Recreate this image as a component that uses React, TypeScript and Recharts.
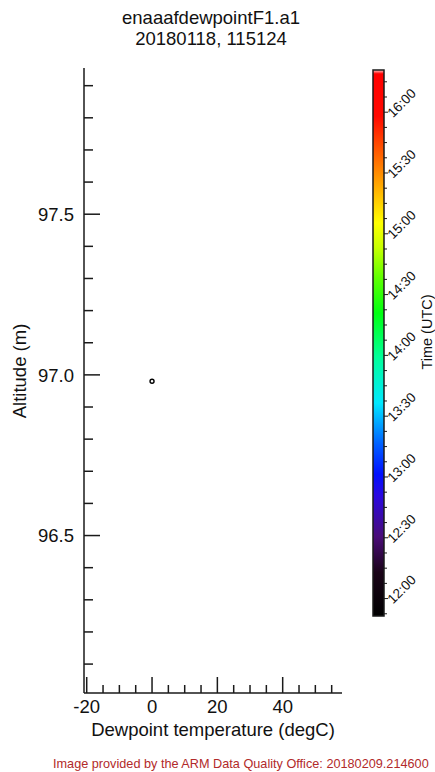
import { Label, ReferenceArea, Scatter, ScatterChart, XAxis, YAxis } from "recharts";

// one sounding sample: dewpoint (degC), altitude (m), time (hours UTC, 11:51:24)
const dewpoint = [0];
const altitude = [96.98];
const sampleTime = [11.8567];

const xTicks = [-20, -15, -10, -5, 0, 5, 10, 15, 20, 25, 30, 35, 40, 45, 50, 55];
const xMajor = [-20, 0, 20, 40];
const yTicks = [
  96.1, 96.2, 96.3, 96.4, 96.5, 96.6, 96.7, 96.8, 96.9, 97.0, 97.1, 97.2, 97.3,
  97.4, 97.5, 97.6, 97.7, 97.8, 97.9,
];
const yMajor = [96.5, 97.0, 97.5];
const timeLabels = ["12:00", "12:30", "13:00", "13:30", "14:00", "14:30", "15:00", "15:30", "16:00"];
const timeRange = [11.8567, 16.347];

const toHours = (s: string) => {
  const [h, m] = s.split(":").map(Number);
  return h + m / 60;
};
const timeMajor = timeLabels.map(toHours);
// minor ticks every 7.5 min
const timeTicks = Array.from({ length: 36 }, (_, i) => 11.875 + i * 0.125);

// colour table, bottom (0) to top (1)
const colorStops: [number, string][] = [
  [0, "#000000"],
  [0.08, "#1a0418"],
  [0.145, "#4a0c78"],
  [0.22, "#2a08e0"],
  [0.26, "#0010ff"],
  [0.315, "#0060ff"],
  [0.39, "#00e8ff"],
  [0.475, "#00ff98"],
  [0.555, "#00ff10"],
  [0.62, "#60ff00"],
  [0.675, "#c8ff00"],
  [0.72, "#ffff00"],
  [0.795, "#ffa000"],
  [0.865, "#ff4800"],
  [0.915, "#ff0800"],
  [0.993, "#ff0000"],
  [1, "#ffd0d0"],
];

const font = "'Liberation Sans', Arial, Helvetica, sans-serif";
const ink = "#1a1a1a";

const hex = (c: string) => [1, 3, 5].map((i) => parseInt(c.slice(i, i + 2), 16));
const colorFor = (t: number) => {
  const f = Math.min(1, Math.max(0, (t - timeRange[0]) / (timeRange[1] - timeRange[0])));
  for (let i = 1; i < colorStops.length; i++) {
    const [o1, c1] = colorStops[i];
    const [o0, c0] = colorStops[i - 1];
    if (f <= o1) {
      const k = (f - o0) / (o1 - o0 || 1);
      const a = hex(c0);
      const b = hex(c1);
      return `rgb(${a.map((v, j) => Math.round(v + (b[j] - v) * k)).join(",")})`;
    }
  }
  return colorStops[colorStops.length - 1][1];
};

const points = dewpoint.map((d, i) => ({ x: d, y: altitude[i], t: sampleTime[i] }));
// sample times placed on the colour bar (marks not drawn, keeps the axes fed)
const barMarks = sampleTime.map((t) => ({ x: 0.5, y: t }));

const YTick = (props: any) => {
  const { x, y, payload } = props;
  const major = yMajor.includes(payload.value);
  return (
    <g>
      <line x1={x} y1={y} x2={x + (major ? 16 : 9)} y2={y} stroke={ink} strokeWidth={1.5} />
      {major && (
        <text x={x - 10} y={y} dy="0.36em" textAnchor="end" fontFamily={font} fontSize={18.5} fill="#111">
          {payload.value.toFixed(1)}
        </text>
      )}
    </g>
  );
};

const XTick = (props: any) => {
  const { x, y, payload } = props;
  const major = xMajor.includes(payload.value);
  return (
    <g>
      <line x1={x} y1={y} x2={x} y2={y - (major ? 16 : 8)} stroke={ink} strokeWidth={1.5} />
      {major && (
        <text x={x} y={y + 20} textAnchor="middle" fontFamily={font} fontSize={18.5} fill="#111">
          {payload.value}
        </text>
      )}
    </g>
  );
};

const TimeTick = (props: any) => {
  const { x, y, payload } = props;
  const idx = timeMajor.findIndex((m) => Math.abs(m - payload.value) < 1e-6);
  const major = idx >= 0;
  const tx = x + 9;
  const ty = y + 6;
  return (
    <g>
      <line x1={x} y1={y} x2={x + (major ? 4 : 3)} y2={y} stroke={ink} strokeWidth={1} />
      {major && (
        <text x={tx} y={ty} transform={`rotate(-45 ${tx} ${ty})`} fontFamily={font} fontSize={13.5} fill="#111">
          {timeLabels[idx]}
        </text>
      )}
    </g>
  );
};

const App = () => {
  return (
    <div style={{ position: "absolute", left: 0, top: 0, width: 435, height: 772, background: "#fff" }}>
      <svg width={435} height={772} style={{ position: "absolute", left: 0, top: 0 }}>
        <text x={211} y={24} textAnchor="middle" fontFamily={font} fontSize={18.5} fill="#111">
          enaaafdewpointF1.a1
        </text>
        <text x={211} y={45} textAnchor="middle" fontFamily={font} fontSize={18.5} fill="#111">
          20180118, 115124
        </text>
        <text x={53} y={768} fontFamily={font} fontSize={12.7} fill="#b22a2a">
          Image provided by the ARM Data Quality Office: 20180209.214600
        </text>
      </svg>

      <div style={{ position: "absolute", left: 0, top: 0 }}>
        <ScatterChart width={435} height={772} margin={{ top: 68, right: 93, bottom: 39, left: 24 }}>
          <XAxis
            dataKey="x"
            type="number"
            domain={[-20.83, 58.16]}
            allowDataOverflow
            ticks={xTicks}
            interval={0}
            height={40}
            tickSize={0}
            tickMargin={0}
            tickLine={false}
            axisLine={{ stroke: ink, strokeWidth: 1.5 }}
            tick={(p: any) => <XTick {...p} />}
          >
            <Label
              content={() => (
                <text x={213} y={736} textAnchor="middle" fontFamily={font} fontSize={18.5} fill="#111">
                  Dewpoint temperature (degC)
                </text>
              )}
            />
          </XAxis>
          <YAxis
            dataKey="y"
            type="number"
            domain={[96.01, 97.955]}
            allowDataOverflow
            ticks={yTicks}
            interval={0}
            width={60}
            tickSize={0}
            tickMargin={0}
            tickLine={false}
            axisLine={{ stroke: ink, strokeWidth: 1.5 }}
            tick={(p: any) => <YTick {...p} />}
          >
            <Label
              content={() => (
                <text
                  x={26}
                  y={371}
                  transform="rotate(-90 26 371)"
                  textAnchor="middle"
                  fontFamily={font}
                  fontSize={18.5}
                  fill="#111"
                >
                  Altitude (m)
                </text>
              )}
            />
          </YAxis>
          <Scatter
            data={points}
            isAnimationActive={false}
            shape={(p: any) => (
              <circle cx={p.cx} cy={p.cy} r={2} fill="#fff" stroke={colorFor(p.payload.t)} strokeWidth={1.4} />
            )}
          />
        </ScatterChart>
      </div>

      <div style={{ position: "absolute", left: 0, top: 0 }}>
        <ScatterChart width={435} height={772} margin={{ top: 70, right: 11, bottom: 156, left: 373 }}>
          <defs>
            <linearGradient id="cbarGrad" x1="0" y1="1" x2="0" y2="0">
              {colorStops.map(([o, c]) => (
                <stop key={o} offset={o} stopColor={c} />
              ))}
            </linearGradient>
          </defs>
          <XAxis dataKey="x" type="number" domain={[0, 1]} allowDataOverflow hide />
          <YAxis
            dataKey="y"
            type="number"
            orientation="right"
            domain={timeRange}
            allowDataOverflow
            ticks={timeTicks}
            interval={0}
            width={40}
            tickSize={0}
            tickMargin={0}
            tickLine={false}
            axisLine={false}
            tick={(p: any) => <TimeTick {...p} />}
          >
            <Label
              content={() => (
                <text
                  x={432}
                  y={332}
                  transform="rotate(-90 432 332)"
                  textAnchor="middle"
                  fontFamily={font}
                  fontSize={14.5}
                  fill="#111"
                >
                  Time (UTC)
                </text>
              )}
            />
          </YAxis>
          <ReferenceArea
            y1={timeRange[0]}
            y2={timeRange[1]}
            fill="url(#cbarGrad)"
            fillOpacity={1}
            stroke={ink}
            strokeWidth={1.5}
            ifOverflow="visible"
          />
          <Scatter data={barMarks} isAnimationActive={false} shape={() => <g />} />
        </ScatterChart>
      </div>
    </div>
  );
};

export default App;
